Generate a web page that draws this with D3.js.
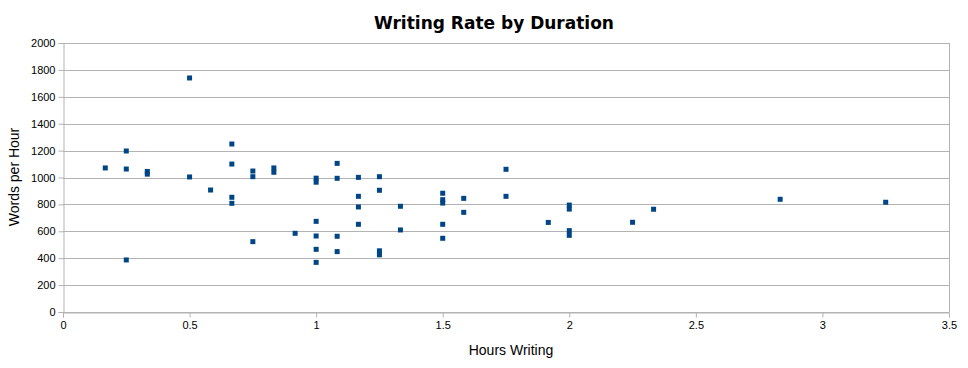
<!DOCTYPE html>
<html><head><meta charset="utf-8">
<script src="https://cdn.jsdelivr.net/npm/d3@7"></script>
<style>body{margin:0;background:#fff}svg{display:block}</style>
</head><body>
<script>
const hours = [0.167,0.25,0.25,0.25,0.333,0.333,0.5,0.5,0.583,0.667,0.667,0.667,0.667,0.75,0.75,0.75,0.833,0.833,0.917,
1,1,1,1,1,1,1.083,1.083,1.083,1.083,1.167,1.167,1.167,1.167,1.25,1.25,1.25,1.25,1.333,1.333,
1.5,1.5,1.5,1.5,1.5,1.583,1.583,1.75,1.75,1.917,2,2,2,2,2.25,2.333,2.833,3.25];
const wordsPerHour = [1071,1197,1063,387,1045,1025,1740,1004,907,1249,1100,853,808,1048,1006,523,1071,1039,585,
995,965,674,565,466,369,1105,994,563,449,1001,860,781,652,1006,905,455,425,786,610,
883,835,810,652,548,845,741,1061,860,666,795,765,605,570,667,764,838,816];
const xTicks = [0,0.5,1,1.5,2,2.5,3,3.5];
const yTicks = [0,200,400,600,800,1000,1200,1400,1600,1800,2000];
const title = "Writing Rate by Duration", xTitle = "Hours Writing", yTitle = "Words per Hour";

const W=968,H=368, L=63, R=949, T=43, B=312;
const svg=d3.select("body").append("svg").attr("width",W).attr("height",H);
const x=d3.scaleLinear().domain([0,3.5]).range([L,R]);
const y=d3.scaleLinear().domain([0,2000]).range([B,T]);
const grid="#b3b3b3";
svg.append("g").selectAll("line").data(yTicks).join("line")
 .attr("x1",L).attr("x2",R).attr("y1",d=>Math.round(y(d))+0.5).attr("y2",d=>Math.round(y(d))+0.5)
 .attr("stroke",grid);
svg.append("line").attr("x1",R+0.5).attr("x2",R+0.5).attr("y1",T).attr("y2",B).attr("stroke",grid);
const fmt=d=>String(d);
const gx=svg.append("g").attr("transform",`translate(0,${B+0.5})`)
 .call(d3.axisBottom(x).tickValues(xTicks).tickFormat(fmt).tickSize(5).tickPadding(4));
const gy=svg.append("g").attr("transform",`translate(${L+0.5},0)`)
 .call(d3.axisLeft(y).tickValues(yTicks).tickFormat(fmt).tickSize(5).tickPadding(3));
[gx,gy].forEach(g=>{
 g.select(".domain").attr("stroke",grid);
 g.selectAll(".tick line").attr("stroke",grid);
 g.selectAll(".tick text").attr("fill","#000").style("font-family","'Liberation Sans',Arial,sans-serif").style("font-size","11px");
});
svg.append("g").selectAll("rect").data(hours.map((h,i)=>[h,wordsPerHour[i]])).join("rect")
 .attr("x",d=>x(d[0])-2.5).attr("y",d=>y(d[1])-2.5).attr("width",5).attr("height",5).attr("fill","#004586");
svg.append("text").attr("x",494).attr("y",29).attr("text-anchor","middle")
 .style("font-family","'DejaVu Sans',Verdana,sans-serif").style("font-weight","bold").style("font-size","17px").text(title);
svg.append("text").attr("x",511).attr("y",355).attr("text-anchor","middle")
 .style("font-family","'Liberation Sans',Arial,sans-serif").style("font-size","14px").text(xTitle);
svg.append("text").attr("transform","translate(19,177) rotate(-90)").attr("text-anchor","middle")
 .style("font-family","'Liberation Sans',Arial,sans-serif").style("font-size","14px").text(yTitle);
</script>
</body></html>
